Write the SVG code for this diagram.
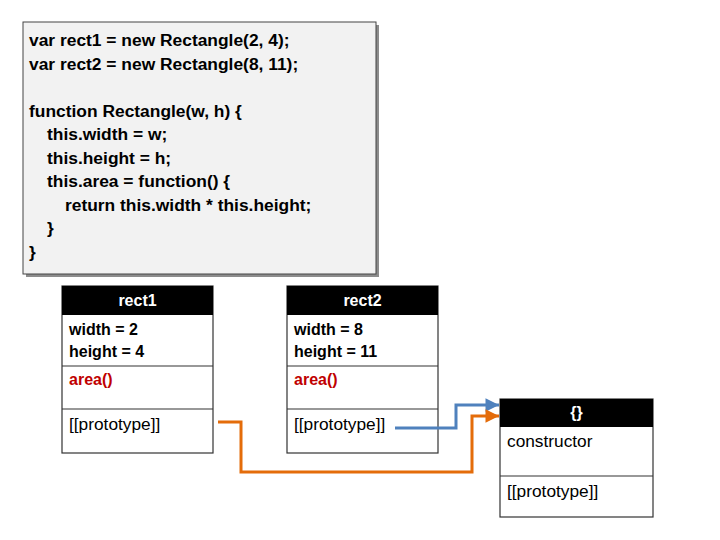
<svg xmlns="http://www.w3.org/2000/svg" width="720" height="540" viewBox="0 0 720 540">
<style>
.code{font-family:"Liberation Sans",Arial,sans-serif;font-weight:bold;font-size:17.4px;fill:#000}
.box{fill:#fff;stroke:#333;stroke-width:1.2}
.hdr{fill:#000}
.sep{stroke:#333;stroke-width:1.2}
.title{font-family:"Liberation Sans",Arial,sans-serif;font-weight:bold;font-size:16px;fill:#fff;text-anchor:middle}
.prop{font-family:"Liberation Sans",Arial,sans-serif;font-weight:bold;font-size:16px;fill:#000}
.meth{font-family:"Liberation Sans",Arial,sans-serif;font-weight:bold;font-size:16px;fill:#c00000}
.plain{font-family:"Liberation Sans",Arial,sans-serif;font-size:17.3px;fill:#000}
.conn{fill:none;stroke-width:3;stroke-linejoin:miter}
</style>
<defs>
<marker id="ab" viewBox="0 0 10 10" refX="10" refY="5" markerWidth="6.5" markerHeight="4.5" orient="auto" markerUnits="strokeWidth"><path d="M0,0 L10,5 L0,10 z" fill="#4f81bd"/></marker>
<marker id="ao" viewBox="0 0 10 10" refX="10" refY="5" markerWidth="6.5" markerHeight="4.5" orient="auto" markerUnits="strokeWidth"><path d="M0,0 L10,5 L0,10 z" fill="#e46c0a"/></marker>
</defs>
<g id="code">
<rect x="26" y="25" width="353" height="252" fill="#8c8c8c"/>
<rect x="23" y="22" width="353" height="252" fill="#f2f2f2" stroke="#444" stroke-width="1"/>
<text class="code" x="29" y="46">var rect1 = new Rectangle(2, 4);</text>
<text class="code" x="29" y="70">var rect2 = new Rectangle(8, 11);</text>
<text class="code" x="29" y="117">function Rectangle(w, h) {</text>
<text class="code" x="47" y="140">this.width = w;</text>
<text class="code" x="47" y="164">this.height = h;</text>
<text class="code" x="47" y="187">this.area = function() {</text>
<text class="code" x="65" y="211">return this.width * this.height;</text>
<text class="code" x="47" y="234">}</text>
<text class="code" x="29" y="258">}</text>
</g>
<g id="rect1">
<rect class="box" x="62" y="286" width="151" height="167"/>
<rect class="hdr" x="62" y="286" width="151" height="29"/>
<text class="title" x="137.5" y="306">rect1</text>
<line class="sep" x1="62" y1="366" x2="213" y2="366"/>
<line class="sep" x1="62" y1="409" x2="213" y2="409"/>
<text class="prop" x="69" y="335">width = 2</text>
<text class="prop" x="69" y="357">height = 4</text>
<text class="meth" x="69" y="385">area()</text>
<text class="plain" x="69" y="430">[[prototype]]</text>
</g>
<g id="rect2">
<rect class="box" x="287" y="286" width="151" height="167"/>
<rect class="hdr" x="287" y="286" width="151" height="29"/>
<text class="title" x="362.5" y="306">rect2</text>
<line class="sep" x1="287" y1="366" x2="438" y2="366"/>
<line class="sep" x1="287" y1="409" x2="438" y2="409"/>
<text class="prop" x="294" y="335">width = 8</text>
<text class="prop" x="294" y="357">height = 11</text>
<text class="meth" x="294" y="385">area()</text>
<text class="plain" x="294" y="430">[[prototype]]</text>
</g>
<g id="proto">
<rect class="box" x="500" y="399" width="153" height="118"/>
<rect class="hdr" x="500" y="399" width="153" height="28"/>
<text class="title" x="576.5" y="418">{}</text>
<line class="sep" x1="500" y1="476" x2="653" y2="476"/>
<text class="plain" x="507" y="447">constructor</text>
<text class="plain" x="507" y="497">[[prototype]]</text>
</g>
<g id="connectors">
<path class="conn" stroke="#4f81bd" d="M395,428 H456 V405 H499" marker-end="url(#ab)"/>
<path class="conn" stroke="#e46c0a" d="M218,422 H241 V472 H472 V416 H499" marker-end="url(#ao)"/>
</g>
</svg>
